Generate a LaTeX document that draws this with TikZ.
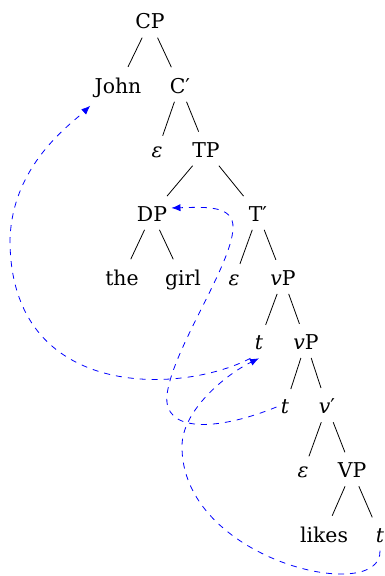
\documentclass[tikz,border=0pt]{standalone}
\usepackage{fontspec}
\setmainfont{DejaVu Serif}
\usepackage{tikz}
\usetikzlibrary{arrows.meta}

\tikzset{
  syn/.style={anchor=base,inner xsep=2pt,inner ysep=4pt,font=\fontsize{10.2}{12}\selectfont},
  branch/.style={shorten >=1.3pt},
  move/.style={blue,dashed,-{Latex[length=4.5pt,width=3.6pt]}}
}

\begin{document}
\begin{tikzpicture}[x=0.5pt,y=-0.5pt]
  \useasboundingbox (0,0) rectangle (384,576);
  % tree nodes
  \node[syn] (cp)    at (150,29)    {CP};
  \node[syn] (john)  at (118,93.1)  {John};
  \node[syn] (cbar)  at (180,93.1)  {C′};
  \node[syn] (epsc)  at (157,157.3) {\textit{ε}};
  \node[syn] (tp)    at (206,157.3) {TP};
  \node[syn] (dp)    at (152,221.4) {DP};
  \node[syn] (tbar)  at (258,221.4) {T′};
  \node[syn] (the)   at (122,285.5) {the};
  \node[syn] (girl)  at (183,285.5) {girl};
  \node[syn] (epst)  at (234,285.5) {\textit{ε}};
  \node[syn] (vpa)   at (283,285.5) {\textit{v}P};
  \node[syn] (ta)    at (259,349.6) {\textit{t}};
  \node[syn] (vpb)   at (306,349.6) {\textit{v}P};
  \node[syn] (tb)    at (285,413.8) {\textit{t}};
  \node[syn] (vbar)  at (327,413.8) {\textit{v}′};
  \node[syn] (epsv)  at (303,477.9) {\textit{ε}};
  \node[syn] (vp)    at (352,477.9) {VP};
  \node[syn] (likes) at (324,542)   {likes};
  \node[syn] (tc)    at (380,542)   {\textit{t}};
  % branches
  \foreach \p/\c in {cp/john,cp/cbar,cbar/epsc,cbar/tp,tp/dp,tp/tbar,dp/the,dp/girl,
                     tbar/epst,tbar/vpa,vpa/ta,vpa/vpb,vpb/tb,vpb/vbar,vbar/epsv,vbar/vp,
                     vp/likes,vp/tc}
    \draw[branch] (\p) -- (\c);
  % movement
  \draw[move] (tc.south) .. controls (382,606) and (180,560) .. (182,445)
                          .. controls (183,410) and (225,375) .. (ta.south);
  \draw[move] (ta.south west) .. controls (180,395) and (10,400) .. (10,240)
                               .. controls (12,165) and (70,125) .. (john.south west);
  \draw[move] (tb.west) .. controls (215,432) and (163,432) .. (167,395)
                         .. controls (172,350) and (232,265) .. (233,228)
                         .. controls (234,205) and (205,207) .. ([yshift=3pt]dp.east);
\end{tikzpicture}
\end{document}
